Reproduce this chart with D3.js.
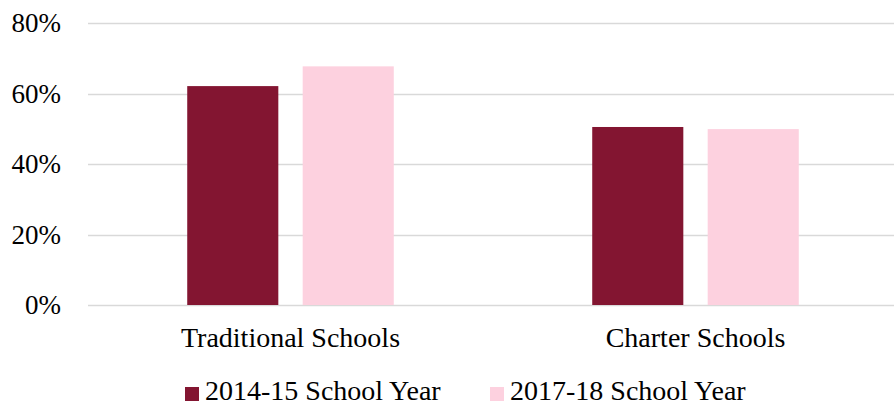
<!DOCTYPE html>
<meta charset="utf-8">
<style>
  body { margin: 0; background: #fff; }
  svg text { font-family: "Liberation Serif", "Times New Roman", serif; fill: #000; }
</style>
<svg id="chart" width="894" height="406"></svg>
<script src="https://cdn.jsdelivr.net/npm/d3@7"></script>
<script>

var categories = ["Traditional Schools", "Charter Schools"];
var seriesNames = ["2014-15 School Year", "2017-18 School Year"];
var values2014 = [62.1, 50.5];
var values2017 = [67.7, 49.9];
var yTicks = [0, 20, 40, 60, 80];
var colors = ["#831531", "#fdd1df"];

var svg = d3.select("#chart");
// plot box (don't call it "top", that's window.top)
var plotL = 88, plotR = 898, plotT = 23, plotB = 305;

var rows = categories.map(function(c, i) {
  return { cat: c, vals: [values2014[i], values2017[i]] };
});

var y = d3.scaleLinear().domain([0, 80]).range([plotB, plotT]);

var x0 = d3.scaleBand()
    .domain(categories)
    .range([plotL, plotR])
    .paddingInner(0.49)
    .paddingOuter(0.245);

var x1 = d3.scaleBand()
    .domain(seriesNames)
    .range([0, x0.bandwidth()])
    .paddingInner(0.211)
    .paddingOuter(0);

// gridlines
svg.append("g")
  .selectAll("line")
  .data(yTicks)
  .enter().append("line")
    .attr("x1", plotL)
    .attr("x2", plotR)
    .attr("y1", function(d) { return Math.round(y(d)) + 0.5; })
    .attr("y2", function(d) { return Math.round(y(d)) + 0.5; })
    .attr("stroke", "#d9d9d9")
    .attr("stroke-width", 1.5);

// y labels
svg.append("g")
  .selectAll("text")
  .data(yTicks)
  .enter().append("text")
    .attr("x", 61)
    .attr("y", function(d) { return y(d); })
    .attr("dy", "0.35em")
    .attr("text-anchor", "end")
    .style("font-size", "27px")
    .text(function(d) { return d + "%"; });

// bars
svg.append("g")
  .selectAll("g")
  .data(rows)
  .enter().append("g")
    .attr("transform", function(d) { return "translate(" + x0(d.cat) + ",0)"; })
  .selectAll("rect")
  .data(function(d) { return d.vals.map(function(v, i) { return { s: seriesNames[i], v: v, i: i }; }); })
  .enter().append("rect")
    .attr("x", function(d) { return x1(d.s); })
    .attr("y", function(d) { return y(d.v); })
    .attr("width", x1.bandwidth())
    .attr("height", function(d) { return y(0) - y(d.v); })
    .attr("fill", function(d) { return colors[d.i]; });

// category labels
svg.append("g")
  .selectAll("text")
  .data(categories)
  .enter().append("text")
    .attr("x", function(d) { return x0(d) + x0.bandwidth() / 2; })
    .attr("y", 347)
    .attr("text-anchor", "middle")
    .style("font-size", "28px")
    .text(function(d) { return d; });

// legend
var legendX = [185, 490];
var legend = svg.append("g")
  .selectAll("g")
  .data(seriesNames)
  .enter().append("g")
    .attr("transform", function(d, i) { return "translate(" + legendX[i] + ",0)"; });

legend.append("rect")
    .attr("x", 0)
    .attr("y", 387)
    .attr("width", 14)
    .attr("height", 14)
    .attr("fill", function(d, i) { return colors[i]; });

legend.append("text")
    .attr("x", 20)
    .attr("y", 400)
    .style("font-size", "28px")
    .text(function(d) { return d; });

</script>
